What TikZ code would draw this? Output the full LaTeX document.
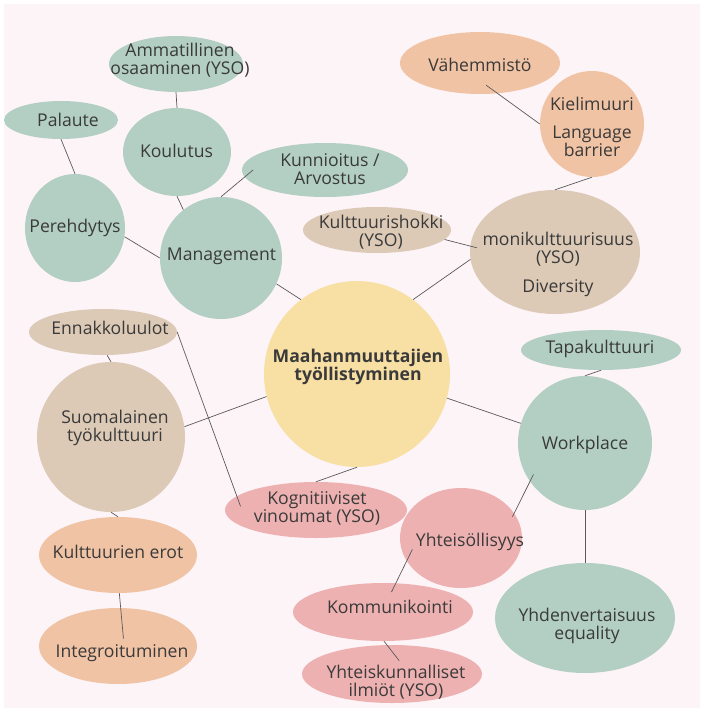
\documentclass[tikz,border=0pt]{standalone}
\usepackage{fontspec}
\setmainfont{Open Sans}
\usepackage{tikz}
\usetikzlibrary{shapes}
\definecolor{bgpink}{HTML}{FDF4F8}
\definecolor{sage}{HTML}{B3CFC4}
\definecolor{sand}{HTML}{DCCAB7}
\definecolor{peach}{HTML}{F1C3A5}
\definecolor{rose}{HTML}{EEB1B1}
\definecolor{butter}{HTML}{F8E0A5}
\definecolor{ink}{HTML}{3A3A3A}
\definecolor{wire}{HTML}{5A5A5A}

\begin{document}
\begin{tikzpicture}[x=1pt,y=-1pt,
    bub/.style 2 args={ellipse, inner sep=0pt, minimum width=#1, minimum height=#2},
    lbl/.style={text=ink, inner sep=0pt, align=center, font=\fontsize{17.6}{18}\selectfont},
    link/.style={draw=wire, line width=0.7pt}]
     \useasboundingbox (0,0) rectangle (701,710);
     \fill [white] (0,0) rectangle (701,710);
     \fill [bgpink] (4,4) rectangle (700,708);
     \node [bub={134}{56}, fill=sage] (amm) at (176,64) {};
     \node [bub={114}{38}, fill=sage] (pal) at (61,120) {};
     \node [bub={108}{88}, fill=sage] (koul) at (177,152) {};
     \node [bub={166}{54}, fill=sage] (kunn) at (325,170) {};
     \node [bub={100}{108}, fill=sage] (pere) at (75,228) {};
     \node [bub={122}{122}, fill=sage] (mgmt) at (221,258) {};
     \node [bub={148}{46}, fill=sand] (shok) at (377,230) {};
     \node [bub={160}{62}, fill=peach] (vahe) at (480,63) {};
     \node [bub={104}{106}, fill=peach] (kiel) at (592,124) {};
     \node [bub={170}{124}, fill=sand] (moni) at (555,252) {};
     \node [bub={186}{186}, fill=butter] (cent) at (357,374) {};
     \node [bub={148}{46}, fill=sand] (enna) at (103,332) {};
     \node [bub={148}{150}, fill=sand] (suom) at (111,437) {};
     \node [bub={158}{76}, fill=peach] (kult) at (118,555) {};
     \node [bub={158}{76}, fill=peach] (integ) at (118,646) {};
     \node [bub={182}{56}, fill=rose] (kogn) at (316,510) {};
     \node [bub={160}{40}, fill=sage] (tapa) at (601,350) {};
     \node [bub={134}{134}, fill=sage] (work) at (585,443) {};
     \node [bub={122}{100}, fill=rose] (yhte) at (461,538) {};
     \node [bub={180}{110}, fill=sage] (yhde) at (585,618) {};
     \node [bub={180}{58}, fill=rose] (komm) at (383,612) {};
     \node [bub={180}{58}, fill=rose] (yhtk) at (392,674) {};
     \draw [link] (amm.south) -- (koul.north);
     \draw [link] (pal.south) -- (pere.north);
     \draw [link] (koul.south) -- (mgmt.128);
     \draw [link, shorten >=-11pt] (mgmt.north) -- (kunn.185);
     \draw [link] (pere.-10) -- (mgmt.west);
     \draw [link] (mgmt.-25) -- (cent.127);
     \draw [link, shorten >=-7pt] (shok.-8) -- (moni.176);
     \draw [link] (moni.185) -- (cent.53);
     \draw [link, shorten <=-14pt] (vahe.-60) -- (kiel.west);
     \draw [link] (kiel.south) -- (moni.north);
     \draw [link, shorten >=-11pt] (enna.east) -- (kogn.170);
     \draw [link] (enna.-80) -- (suom.north);
     \draw [link] (suom.8) -- (cent.194);
     \draw [link] (suom.south) -- (kult.north);
     \draw [link, shorten >=-31pt] (kult.-88) -- (integ.86);
     \draw [link] (kogn.north) -- (cent.south);
     \draw [link] (tapa.south) -- (work.north);
     \draw [link] (cent.-15) -- (work.163);
     \draw [link, shorten <=-8pt, shorten >=-4pt] (work.215) -- (yhte.25);
     \draw [link] (work.south) -- (yhde.north);
     \draw [link, shorten <=-13pt, shorten >=-10pt] (yhte.203) -- (komm.66);
     \draw [link, shorten >=-20pt] (komm.-88) -- (yhtk.100);
     \node [lbl] (ammtxt) at (180,60.5) {Ammatillinen\\osaaminen (YSO)};
     \node [lbl, anchor=base] (paltxt) at (68,126) {Palaute};
     \node [lbl, anchor=base] (koultxt) at (176.5,157) {Koulutus};
     \node [lbl] (kunntxt) at (330,169) {Kunnioitus /\\Arvostus};
     \node [lbl, anchor=base] (peretxt) at (75,232) {Perehdytys};
     \node [lbl, anchor=base] (mgmttxt) at (221.5,260) {Management};
     \node [lbl] (shoktxt) at (381,232) {Kulttuurishokki\\(YSO)};
     \node [lbl, anchor=base] (vahetxt) at (480,71) {Vähemmistö};
     \node [lbl] (kieltxt) at (592,126.5) {Kielimuuri\\[10pt]Language\\barrier};
     \node [lbl] (monitxt) at (558,264) {monikulttuurisuus\\(YSO)\\[11pt]Diversity};
     \node [lbl, font=\fontsize{17.6}{18}\selectfont\bfseries] (centtxt) at (358,366.5) {Maahanmuuttajien\\työllistyminen};
     \node [lbl, anchor=base] (ennatxt) at (110,334) {Ennakkoluulot};
     \node [lbl] (suomtxt) at (115,427.5) {Suomalainen\\työkulttuuri};
     \node [lbl, anchor=base] (kulttxt) at (118,558) {Kulttuurien erot};
     \node [lbl, anchor=base] (integtxt) at (122,657) {Integroituminen};
     \node [lbl] (kogntxt) at (317,508) {Kognitiiviset\\vinoumat (YSO)};
     \node [lbl, anchor=base] (tapatxt) at (600,353) {Tapakulttuuri};
     \node [lbl, anchor=base] (worktxt) at (585,449) {Workplace};
     \node [lbl, anchor=base] (yhtetxt) at (470,546) {Yhteisöllisyys};
     \node [lbl] (yhdetxt) at (587,626) {Yhdenvertaisuus\\equality};
     \node [lbl, anchor=base] (kommtxt) at (390,613) {Kommunikointi};
     \node [lbl] (yhtktxt) at (396,682) {Yhteiskunnalliset\\ilmiöt (YSO)};
\end{tikzpicture}
\end{document}
